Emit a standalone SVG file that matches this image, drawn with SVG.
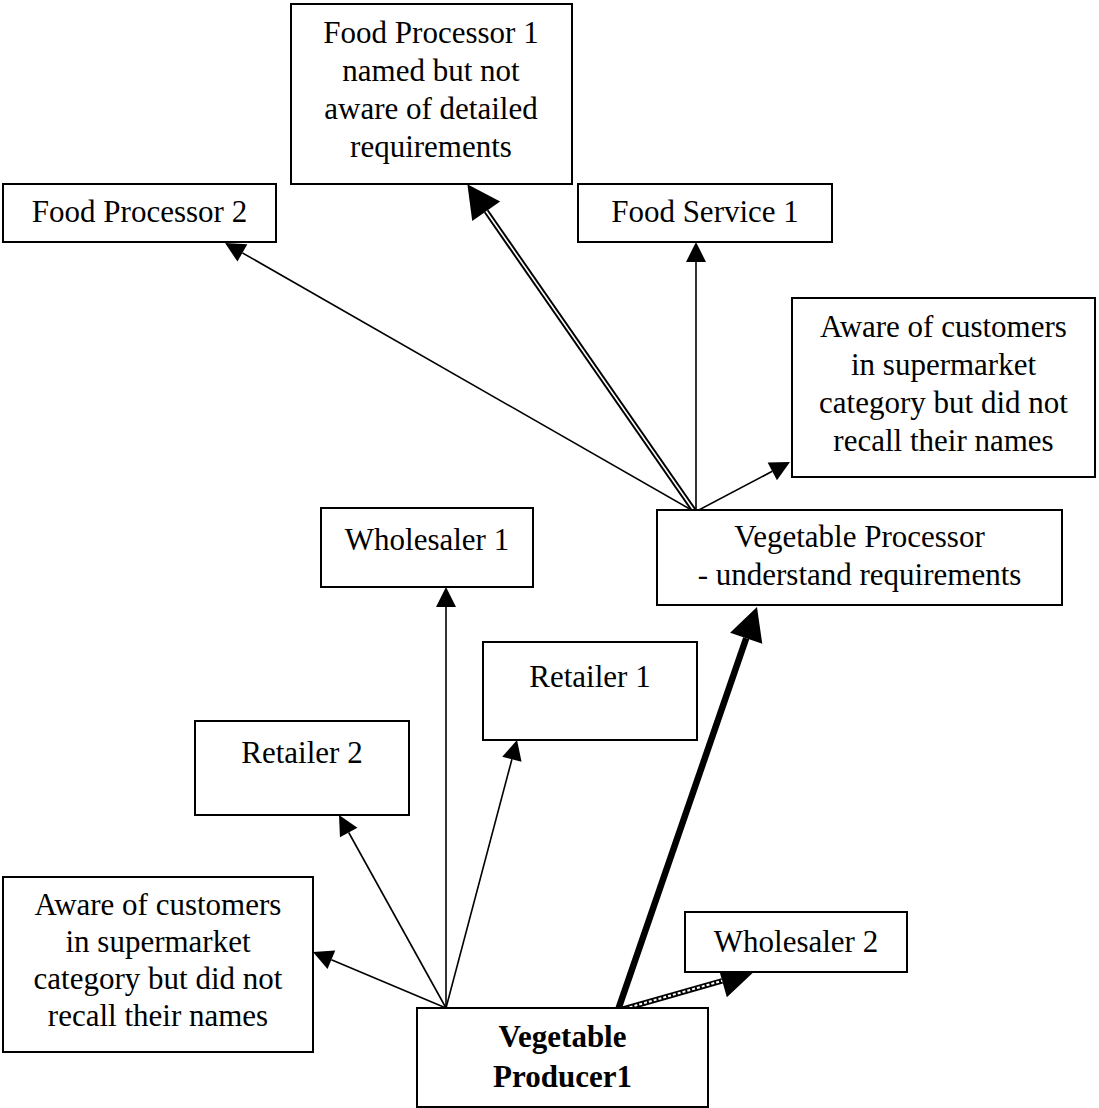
<svg xmlns="http://www.w3.org/2000/svg" width="1099" height="1108" viewBox="0 0 1099 1108">
<style>
.box{fill:#fff;stroke:#000;stroke-width:2}
.t{font-family:"Liberation Serif","Times New Roman",serif;font-size:31px;fill:#000;text-anchor:middle}
.b{font-weight:bold}
.thin{fill:none;stroke:#000;stroke-width:1.6}
</style>
<defs>
<marker id="ah" markerUnits="userSpaceOnUse" markerWidth="20" markerHeight="20" refX="0" refY="10" orient="auto" overflow="visible"><path d="M0,0 L20,10 L0,20 Z" fill="#000"/></marker>
<marker id="ahb" markerUnits="userSpaceOnUse" markerWidth="34" markerHeight="34" refX="0" refY="17" orient="auto" overflow="visible"><path d="M0,0 L33,17 L0,34 Z" fill="#000"/></marker>
</defs>
<rect width="1099" height="1108" fill="#fff"/>
<g id="connectors">
<line class="thin" x1="695" y1="512" x2="242.4" y2="252.9" marker-end="url(#ah)"/>
<line class="thin" x1="696" y1="512" x2="696" y2="262" marker-end="url(#ah)"/>
<line class="thin" x1="695" y1="512" x2="772.3" y2="471.3" marker-end="url(#ah)"/>
<line class="thin" x1="446" y1="1008" x2="446" y2="607" marker-end="url(#ah)"/>
<line class="thin" x1="446" y1="1008" x2="348.7" y2="832.5" marker-end="url(#ah)"/>
<line class="thin" x1="446" y1="1008" x2="511.9" y2="759.3" marker-end="url(#ah)"/>
<line class="thin" x1="446" y1="1008" x2="331.4" y2="959.8" marker-end="url(#ah)"/>
<line x1="695" y1="512" x2="486.2" y2="211.3" stroke="#000" stroke-width="5.5" marker-end="url(#ahb)"/>
<line x1="695" y1="512" x2="486.2" y2="211.3" stroke="#fff" stroke-width="1.6"/>
<line x1="618" y1="1010" x2="746.2" y2="638.2" stroke="#000" stroke-width="6.5" marker-end="url(#ahb)"/>
<line x1="620" y1="1010" x2="722.2" y2="980.8" stroke="#000" stroke-width="5.5" marker-end="url(#ahb)"/>
<line x1="620" y1="1010" x2="722.2" y2="980.8" stroke="#fff" stroke-width="2" stroke-dasharray="3 2"/>
</g>
<g id="fp1"><rect class="box" x="291" y="4" width="281" height="180"/>
<text class="t" x="431" y="43">Food Processor 1</text><text class="t" x="431" y="81">named but not</text><text class="t" x="431" y="119">aware of detailed</text><text class="t" x="431" y="157">requirements</text></g>
<g id="fp2"><rect class="box" x="3" y="184" width="273" height="58"/><text class="t" x="139.5" y="222">Food Processor 2</text></g>
<g id="fs1"><rect class="box" x="578" y="184" width="254" height="58"/><text class="t" x="705" y="222">Food Service 1</text></g>
<g id="awareR"><rect class="box" x="792" y="298" width="303" height="179"/>
<text class="t" x="943.5" y="337">Aware of customers</text><text class="t" x="943.5" y="375">in supermarket</text><text class="t" x="943.5" y="413">category but did not</text><text class="t" x="943.5" y="451">recall their names</text></g>
<g id="vp"><rect class="box" x="657" y="510" width="405" height="95"/>
<text class="t" x="859.5" y="547">Vegetable Processor</text><text class="t" x="859.5" y="585">- understand requirements</text></g>
<g id="w1"><rect class="box" x="321" y="508" width="212" height="79"/><text class="t" x="427" y="550">Wholesaler 1</text></g>
<g id="r1"><rect class="box" x="483" y="642" width="214" height="98"/><text class="t" x="590" y="687">Retailer 1</text></g>
<g id="r2"><rect class="box" x="195" y="721" width="214" height="94"/><text class="t" x="302" y="763">Retailer 2</text></g>
<g id="awareL"><rect class="box" x="3" y="877" width="310" height="175"/>
<text class="t" x="158" y="915">Aware of customers</text><text class="t" x="158" y="952">in supermarket</text><text class="t" x="158" y="989">category but did not</text><text class="t" x="158" y="1026">recall their names</text></g>
<g id="w2"><rect class="box" x="685" y="912" width="222" height="60"/><text class="t" x="796" y="952">Wholesaler 2</text></g>
<g id="vp1"><rect class="box" x="417" y="1008" width="291" height="99"/>
<text class="t b" x="562.5" y="1047">Vegetable</text><text class="t b" x="562.5" y="1087">Producer1</text></g>
</svg>
